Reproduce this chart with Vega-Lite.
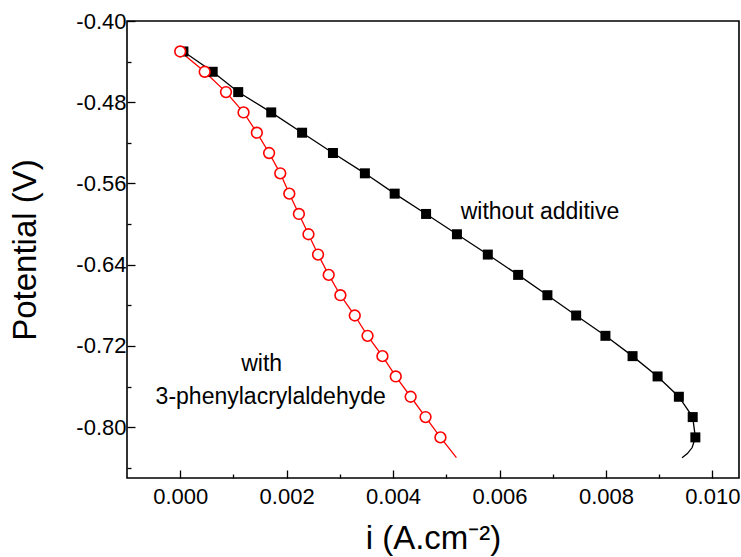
{
  "$schema": "https://vega.github.io/schema/vega-lite/v6.json",
  "width": 612,
  "height": 457,
  "autosize": {"type": "none"},
  "padding": {"left": 127, "top": 21, "right": 2, "bottom": 79},
  "background": "white",
  "config": {"view": {"stroke": "black", "strokeWidth": 1.6}, "font": "Liberation Sans"},
  "datasets": {
    "curves": [
      {"series": "without", "pt": 1, "i": 0.00006, "V": -0.43},
      {"series": "without", "pt": 1, "i": 0.00061, "V": -0.45},
      {"series": "without", "pt": 1, "i": 0.00109, "V": -0.47},
      {"series": "without", "pt": 1, "i": 0.00171, "V": -0.49},
      {"series": "without", "pt": 1, "i": 0.00229, "V": -0.51},
      {"series": "without", "pt": 1, "i": 0.00287, "V": -0.53},
      {"series": "without", "pt": 1, "i": 0.00347, "V": -0.55},
      {"series": "without", "pt": 1, "i": 0.00403, "V": -0.57},
      {"series": "without", "pt": 1, "i": 0.00462, "V": -0.59},
      {"series": "without", "pt": 1, "i": 0.00520, "V": -0.61},
      {"series": "without", "pt": 1, "i": 0.00578, "V": -0.63},
      {"series": "without", "pt": 1, "i": 0.00635, "V": -0.65},
      {"series": "without", "pt": 1, "i": 0.00690, "V": -0.67},
      {"series": "without", "pt": 1, "i": 0.00744, "V": -0.69},
      {"series": "without", "pt": 1, "i": 0.00799, "V": -0.71},
      {"series": "without", "pt": 1, "i": 0.00850, "V": -0.73},
      {"series": "without", "pt": 1, "i": 0.00897, "V": -0.75},
      {"series": "without", "pt": 1, "i": 0.00937, "V": -0.77},
      {"series": "without", "pt": 1, "i": 0.00963, "V": -0.79},
      {"series": "without", "pt": 1, "i": 0.00968, "V": -0.81},
      {"series": "without", "pt": 0, "i": 0.00962, "V": -0.82},
      {"series": "without", "pt": 0, "i": 0.00953, "V": -0.826},
      {"series": "without", "pt": 0, "i": 0.00943, "V": -0.830},
      {"series": "with", "pt": 1, "i": 0.00000, "V": -0.43},
      {"series": "with", "pt": 1, "i": 0.00046, "V": -0.45},
      {"series": "with", "pt": 1, "i": 0.00086, "V": -0.47},
      {"series": "with", "pt": 1, "i": 0.00119, "V": -0.49},
      {"series": "with", "pt": 1, "i": 0.00144, "V": -0.51},
      {"series": "with", "pt": 1, "i": 0.00167, "V": -0.53},
      {"series": "with", "pt": 1, "i": 0.00188, "V": -0.55},
      {"series": "with", "pt": 1, "i": 0.00205, "V": -0.57},
      {"series": "with", "pt": 1, "i": 0.00223, "V": -0.59},
      {"series": "with", "pt": 1, "i": 0.00241, "V": -0.61},
      {"series": "with", "pt": 1, "i": 0.00259, "V": -0.63},
      {"series": "with", "pt": 1, "i": 0.00279, "V": -0.65},
      {"series": "with", "pt": 1, "i": 0.00301, "V": -0.67},
      {"series": "with", "pt": 1, "i": 0.00328, "V": -0.69},
      {"series": "with", "pt": 1, "i": 0.00352, "V": -0.71},
      {"series": "with", "pt": 1, "i": 0.00380, "V": -0.73},
      {"series": "with", "pt": 1, "i": 0.00405, "V": -0.75},
      {"series": "with", "pt": 1, "i": 0.00433, "V": -0.77},
      {"series": "with", "pt": 1, "i": 0.00461, "V": -0.79},
      {"series": "with", "pt": 1, "i": 0.00489, "V": -0.81},
      {"series": "with", "pt": 0, "i": 0.00519, "V": -0.83}
    ],
    "notes": [
      {"label": "without additive", "i": 0.00676, "V": -0.588},
      {"label": "with", "i": 0.00153, "V": -0.738},
      {"label": "3-phenylacrylaldehyde", "i": 0.00170, "V": -0.770}
    ]
  },
  "data": {"name": "curves"},
  "encoding": {
    "x": {
      "field": "i",
      "type": "quantitative",
      "scale": {"domain": [-0.001, 0.0105], "nice": false, "zero": false},
      "axis": {
        "title": "i (A.cm⁻²)",
        "values": [0, 0.001, 0.002, 0.003, 0.004, 0.005, 0.006, 0.007, 0.008, 0.009, 0.01],
        "labelExpr": "abs(datum.value/0.002 - round(datum.value/0.002)) < 0.01 ? format(datum.value, '.3f') : ''",
        "tickSize": {"condition": {"test": "abs(datum.value/0.002 - round(datum.value/0.002)) < 0.01", "value": -8}, "value": -4},
        "tickColor": "black",
        "tickWidth": 1.3,
        "domain": false,
        "grid": false,
        "labelFont": "Liberation Sans",
        "labelFontSize": 22,
        "labelColor": "black",
        "labelPadding": 16,
        "labelFlush": false,
        "labelOverlap": false,
        "titleFont": "Liberation Sans",
        "titleFontSize": 33,
        "titleFontWeight": "normal",
        "titleColor": "black",
        "titlePadding": 11
      }
    },
    "y": {
      "field": "V",
      "type": "quantitative",
      "scale": {"domain": [-0.85, -0.40], "nice": false, "zero": false},
      "axis": {
        "title": "Potential (V)",
        "values": [-0.40, -0.44, -0.48, -0.52, -0.56, -0.60, -0.64, -0.68, -0.72, -0.76, -0.80, -0.84],
        "labelExpr": "abs((datum.value+0.4)/0.08 - round((datum.value+0.4)/0.08)) < 0.01 ? replace(format(datum.value, '.2f'), '−', '-') : ''",
        "tickSize": {"condition": {"test": "abs((datum.value+0.4)/0.08 - round((datum.value+0.4)/0.08)) < 0.01", "value": -8}, "value": -4},
        "tickColor": "black",
        "tickWidth": 1.3,
        "domain": false,
        "grid": false,
        "labelFont": "Liberation Sans",
        "labelFontSize": 22,
        "labelColor": "black",
        "labelPadding": 9,
        "labelFlush": false,
        "labelOverlap": false,
        "titleFont": "Liberation Sans",
        "titleFontSize": 33,
        "titleFontWeight": "normal",
        "titleColor": "black",
        "titlePadding": 33
      }
    }
  },
  "layer": [
    {
      "transform": [{"filter": "datum.series == 'without'"}],
      "mark": {"type": "line", "color": "black", "strokeWidth": 1.3},
      "encoding": {"order": {"field": "V", "sort": "descending"}}
    },
    {
      "transform": [{"filter": "datum.series == 'with'"}],
      "mark": {"type": "line", "color": "#ff0000", "strokeWidth": 1.3},
      "encoding": {"order": {"field": "V", "sort": "descending"}}
    },
    {
      "transform": [{"filter": "datum.series == 'without' && datum.pt == 1"}],
      "mark": {"type": "point", "shape": "square", "filled": true, "color": "black", "size": 100, "opacity": 1}
    },
    {
      "transform": [{"filter": "datum.series == 'with' && datum.pt == 1"}],
      "mark": {"type": "point", "shape": "circle", "filled": false, "fill": "white", "fillOpacity": 1, "stroke": "#ff0000", "strokeWidth": 1.6, "size": 115, "opacity": 1}
    },
    {
      "data": {"name": "notes"},
      "mark": {"type": "text", "font": "Liberation Sans", "fontSize": 23, "color": "black", "align": "center", "baseline": "middle"},
      "encoding": {"text": {"field": "label", "type": "nominal"}}
    }
  ]
}
